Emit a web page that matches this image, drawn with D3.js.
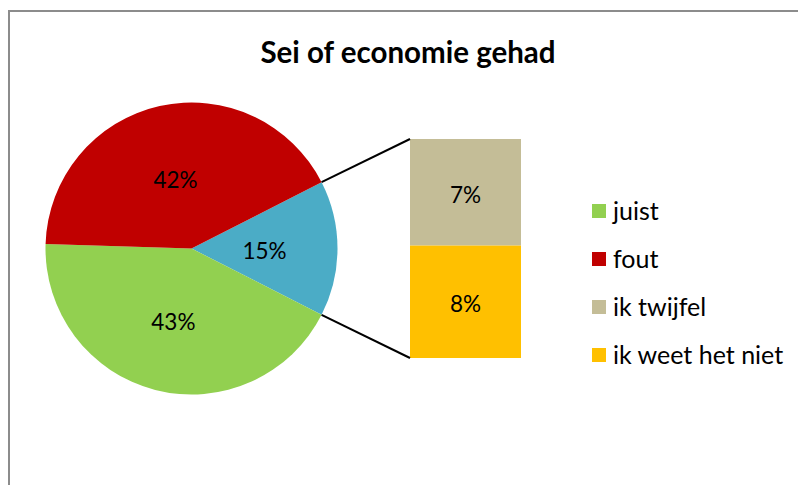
<!DOCTYPE html>
<html>
<head>
<meta charset="utf-8">
<script src="https://cdn.jsdelivr.net/npm/d3@7"></script>
<style>
  body { margin: 0; background: #fff; }
  text { font-family: Lato, "Open Sans", sans-serif; fill: #000; }
</style>
</head>
<body>
<script>
// pie slices (the last one is split into the bar)
const pieLabels = ['juist', 'fout', 'overig'];
const pieValues = [43, 42, 15];
const pieColors = ['#92d050', '#c00000', '#4bacc6'];

// the bar of the "other" slice, top to bottom
const barLabels = ['ik twijfel', 'ik weet het niet'];
const barValues = [7.3, 7.7];
const barColors = ['#c4bd97', '#ffc000'];

const legendLabels = ['juist', 'fout', 'ik twijfel', 'ik weet het niet'];
const legendColors = ['#92d050', '#c00000', '#c4bd97', '#ffc000'];

const width = 798;
const height = 485;

const svg = d3.select('body').append('svg')
  .attr('width', width)
  .attr('height', height);

// chart frame (right and bottom edges run off the picture)
svg.append('rect')
  .attr('x', 9)
  .attr('y', 11)
  .attr('width', 820)
  .attr('height', 500)
  .attr('fill', '#fff')
  .attr('stroke', '#8c8c8c')
  .attr('stroke-width', 2);

svg.append('text')
  .attr('x', 408)
  .attr('y', 63)
  .attr('text-anchor', 'middle')
  .style('font-weight', 'bold')
  .style('font-size', '29.5px')
  .text('Sei of economie gehad');

const cx = 191.5;
const cy = 248.5;
const r = 146;

const fmt = d3.format('.0f');
const total = d3.sum(pieValues);

// "other" slice centred on the right-hand horizontal
const otherAngle = pieValues[2] / total * 2 * Math.PI;
const start = Math.PI / 2 - otherAngle / 2;

const pie = d3.pie()
  .sort(null)
  .startAngle(start)
  .endAngle(start + 2 * Math.PI)
  .value(d => d);

// order clockwise from the top of the other slice: other, green, red
const order = [2, 0, 1];
const arcs = pie(order.map(i => pieValues[i]));
arcs.forEach((a, k) => { a.idx = order[k]; });

const arc = d3.arc().innerRadius(0).outerRadius(r);
const labelArc = d3.arc().innerRadius(r * 1.0).outerRadius(0);

const g = svg.append('g').attr('transform', `translate(${cx},${cy})`);

g.selectAll('path')
  .data(arcs)
  .enter().append('path')
    .attr('d', arc)
    .attr('fill', d => pieColors[d.idx]);

g.selectAll('text')
  .data(arcs)
  .enter().append('text')
    .attr('transform', d => {
      const c = labelArc.centroid(d);
      return `translate(${c[0]},${c[1]})`;
    })
    .attr('text-anchor', 'middle')
    .attr('dy', '0.46em')
    .style('font-size', '22.5px')
    .text(d => fmt(d.value) + '%');

// bar of the other slice
const barX = 410;
const barW = 111;
const y = d3.scaleLinear()
  .domain([0, d3.sum(barValues)])
  .range([139, 358]);

let acc = 0;
const stack = barValues.map((v, i) => {
  const d = { v, i, y0: acc, y1: acc + v };
  acc += v;
  return d;
});

svg.selectAll('.bar')
  .data(stack)
  .enter().append('rect')
    .attr('class', 'bar')
    .attr('x', barX)
    .attr('y', d => y(d.y0))
    .attr('width', barW)
    .attr('height', d => y(d.y1) - y(d.y0))
    .attr('fill', d => barColors[d.i]);

svg.selectAll('.barlabel')
  .data(stack)
  .enter().append('text')
    .attr('class', 'barlabel')
    .attr('x', barX + barW / 2)
    .attr('y', d => (y(d.y0) + y(d.y1)) / 2)
    .attr('dy', '0.46em')
    .attr('text-anchor', 'middle')
    .style('font-size', '22.5px')
    .text(d => fmt(d.v) + '%');

// connector lines from the slice edges to the bar corners
const half = otherAngle / 2;
const p1 = [cx + r * Math.cos(half), cy - r * Math.sin(half)];
const p2 = [cx + r * Math.cos(half), cy + r * Math.sin(half)];
svg.append('line')
  .attr('x1', p1[0]).attr('y1', p1[1])
  .attr('x2', barX).attr('y2', y(0))
  .attr('stroke', '#000').attr('stroke-width', 2);
svg.append('line')
  .attr('x1', p2[0]).attr('y1', p2[1])
  .attr('x2', barX).attr('y2', y(d3.sum(barValues)))
  .attr('stroke', '#000').attr('stroke-width', 2);

// legend
const legend = svg.selectAll('.legend')
  .data(legendLabels)
  .enter().append('g')
    .attr('class', 'legend')
    .attr('transform', (d, i) => `translate(592,${211 + i * 48})`);

legend.append('rect')
  .attr('x', 0)
  .attr('y', -7)
  .attr('width', 14)
  .attr('height', 14)
  .attr('fill', (d, i) => legendColors[i]);

legend.append('text')
  .attr('x', 21)
  .attr('dy', '0.36em')
  .style('font-size', '25px')
  .text(d => d);
</script>
</body>
</html>
